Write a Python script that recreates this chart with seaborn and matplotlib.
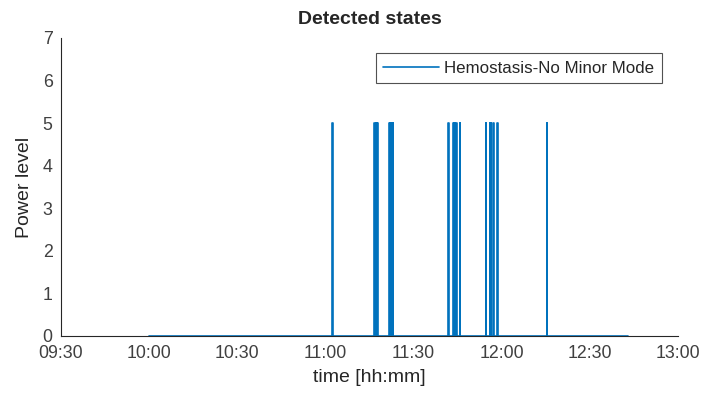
import numpy as np
import pandas as pd
import matplotlib
matplotlib.use("Agg")
import matplotlib.pyplot as plt
import matplotlib.dates as mdates
import seaborn as sns

# start times of the short pulses where power level jumps to 5 (hh:mm.m)
pulse_times = ["11:02.4",
               "11:16.7", "11:16.9", "11:17.1", "11:17.3", "11:17.5", "11:17.7",
               "11:21.5", "11:21.7", "11:21.9", "11:22.1", "11:22.3", "11:22.5", "11:22.7", "11:22.9",
               "11:41.8",
               "11:43.5", "11:43.7", "11:43.9", "11:44.4", "11:44.6", "11:44.8",
               "11:45.7",
               "11:54.6",
               "11:56.0", "11:56.2", "11:56.4", "11:56.9", "11:57.1", "11:57.3",
               "11:58.5",
               "12:15.3"]
pulse_width = 0.12  # minutes
pulse_level = 5
signal_start = "10:00"
signal_end = "12:43"
series_name = "Hemostasis-No Minor Mode"


def to_time(s, extra=0.0):
    h, m = s.split(":")
    return pd.Timestamp("2020-01-01") + pd.Timedelta(hours=int(h), minutes=float(m) + extra)


# build step signal from the pulses
times = [to_time(signal_start)]
levels = [0]
for s in pulse_times:
    times += [to_time(s), to_time(s), to_time(s, pulse_width), to_time(s, pulse_width)]
    levels += [0, pulse_level, pulse_level, 0]
times.append(to_time(signal_end))
levels.append(0)
df = pd.DataFrame({"time": times, "level": levels, "state": series_name})

sns.set_style("white")
plt.rcParams["font.family"] = ["Liberation Sans", "DejaVu Sans"]

fig = plt.figure(figsize=(7.03, 3.94), dpi=100)
ax = fig.add_axes([61 / 703, 1 - 336 / 394, 617 / 703, 298 / 394])

sns.lineplot(data=df, x="time", y="level", hue="state", palette=["#0072BD"],
             sort=False, estimator=None, linewidth=1.2, ax=ax)

ax.set_xlim(to_time("09:30"), to_time("13:00"))
ax.set_ylim(0, 7)
ax.set_yticks(range(0, 8))
ax.xaxis.set_major_locator(mdates.MinuteLocator(byminute=[0, 30]))
ax.xaxis.set_major_formatter(mdates.DateFormatter("%H:%M"))

for side in ["top", "right"]:
    ax.spines[side].set_visible(False)
for side in ["left", "bottom"]:
    ax.spines[side].set_color("#262626")
    ax.spines[side].set_linewidth(0.8)
ax.tick_params(direction="in", length=4, width=0.8, colors="#262626",
               labelsize=12.8, labelcolor="#404040")
ax.tick_params(axis="x", pad=6.5)
ax.tick_params(axis="y", pad=6)

ax.set_xlabel("time [hh:mm]", fontsize=14, color="#262626", labelpad=5)
ax.set_ylabel("Power level", fontsize=14, color="#262626", labelpad=7)
ax.set_title("Detected states", fontsize=14, fontweight="bold", pad=10)

leg = ax.legend(loc="upper right", bbox_to_anchor=((662 - 61) / 617, (336 - 53) / 298),
                fontsize=12.2, frameon=True, fancybox=False, borderaxespad=0,
                handlelength=3.3, handletextpad=0.3, borderpad=0.45)
leg.get_frame().set_edgecolor("#262626")
leg.get_frame().set_linewidth(0.8)
for t in leg.get_texts():
    t.set_color("#262626")

fig.savefig("out.png", dpi=100)
